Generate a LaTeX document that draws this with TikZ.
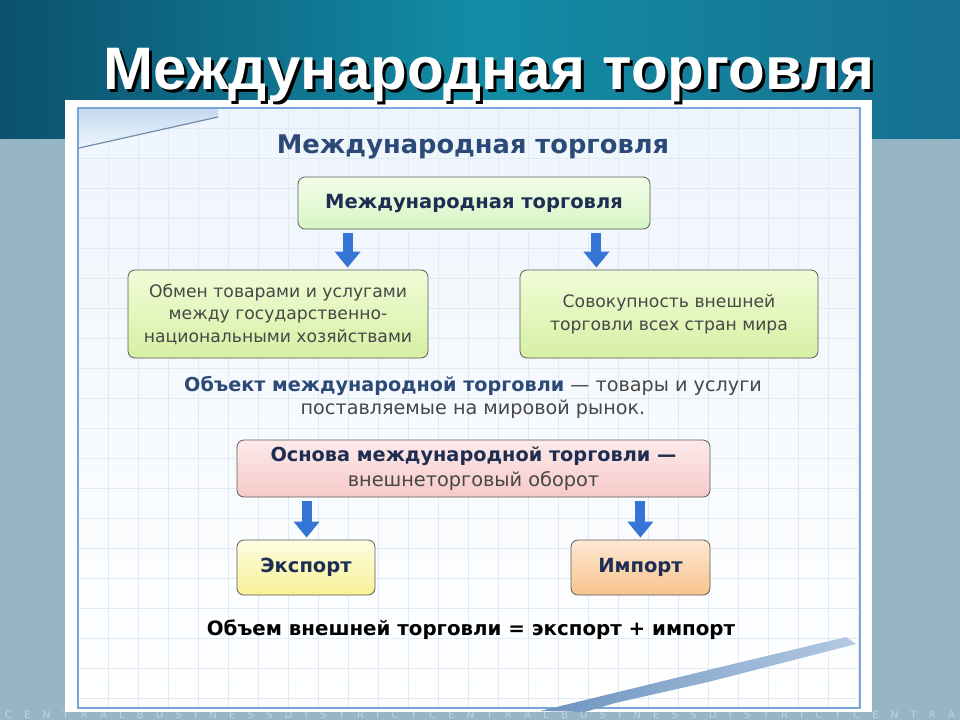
\documentclass[tikz,border=0pt]{standalone}
\usepackage{fontspec}
\setmainfont{DejaVu Sans}
\newfontfamily\titlefont{Liberation Sans}
\usetikzlibrary{positioning,arrows.meta,calc}

\definecolor{sky}{HTML}{17708F}
\definecolor{skydark}{HTML}{0C516E}
\definecolor{sidegrey}{HTML}{96B6C6}
\definecolor{navy}{HTML}{1E2D52}
\definecolor{headblue}{HTML}{2C4A78}
\definecolor{boxline}{HTML}{5A5A5A}
\definecolor{arrowblue}{HTML}{3475D6}
\definecolor{textgrey}{HTML}{474747}
\definecolor{panel}{HTML}{EEF5FC}
\definecolor{gridline}{HTML}{DFEAF5}
\definecolor{frame}{HTML}{78A6D8}
\definecolor{corner}{HTML}{C4DAF1}
\definecolor{pendark}{HTML}{6D93BF}
\definecolor{penlight}{HTML}{B3CAE2}

\begin{document}
\begin{tikzpicture}[x=1pt,y=-1pt]
        \tikzstyle{box}=[draw=boxline,rounded corners=7pt,line width=0.8pt,align=center,inner sep=2pt]
        \tikzstyle{gbox}=[box,top color={rgb,255:red,240;green,252;blue,214},bottom color={rgb,255:red,214;green,240;blue,164}]
        \tikzstyle{pbox}=[box,top color={rgb,255:red,253;green,234;blue,234},bottom color={rgb,255:red,247;green,201;blue,201}]
        \tikzstyle{ybox}=[box,top color={rgb,255:red,254;green,253;blue,226},bottom color={rgb,255:red,247;green,241;blue,150}]
        \tikzstyle{obox}=[box,top color={rgb,255:red,253;green,232;blue,212},bottom color={rgb,255:red,247;green,196;blue,140}]
        \tikzstyle{arr}=[line width=10pt,arrowblue,-{Triangle[width=25pt,length=16pt]}]
        \tikzstyle{body}=[font=\fontsize{17.2}{22.5}\selectfont,text=textgrey]
        \tikzstyle{bold}=[font=\fontsize{19.5}{24}\selectfont\bfseries,text=navy]

        % background of the slide
        \fill[sidegrey] (0,0) rectangle (960,720);
        \shade[left color=skydark,right color=sky,middle color=sky!80!cyan] (0,0) rectangle (960,138);
        \fill[white] (65,100) rectangle (872,712);
        \shade[top color=panel,bottom color=white] (78,108) rectangle (860,708);
        \foreach \gx in {108,138,...,858}
          \draw[gridline,line width=0.6pt] (\gx,108) -- (\gx,708);
        \foreach \gy in {128,158,...,700}
          \draw[gridline,line width=0.6pt] (78,\gy) -- (860,\gy);
        \draw[frame,line width=1.5pt] (78,108) rectangle (860,708);
        \shade[top color=corner,bottom color=panel] (79,109) -- (218,109) -- (218,117) -- (79,148) -- cycle;
        \draw[pendark!70!gray,line width=1.2pt] (79,148) -- (218,117);
        % pen
        \shade[left color=pendark,right color=penlight]
          (540,711) -- (610,694) -- (700,672) -- (846,637) -- (856,644) -- (708,682) -- (615,703) -- (585,712) -- cycle;

        % title
        \node(tshadow) at (492,78) {\titlefont\bfseries\fontsize{60}{60}\selectfont\color{black} Международная торговля};
        \node(title) at (489,75) {\titlefont\bfseries\fontsize{60}{60}\selectfont\color{white} Международная торговля};

        \node(head) at (473,147) {\fontsize{25.7}{28}\selectfont\bfseries\color{headblue} Международная торговля};

        \node[box,bold,minimum width=352pt,minimum height=52pt,top color={rgb,255:red,244;green,253;blue,234},bottom color={rgb,255:red,214;green,245;blue,196}](b1) at (474,203) {Международная торговля};

        \node[gbox,body,minimum width=300pt,minimum height=88pt](b2) at (278,314) {Обмен товарами и услугами\\между государственно-\\национальными хозяйствами};

        \node[gbox,body,minimum width=298pt,minimum height=88pt](b3) at (669,314) {Совокупность внешней\\торговли всех стран мира};

        \node[font=\fontsize{19.2}{23}\selectfont,text=textgrey,align=center](obj) at (473,397) {{\bfseries\color{headblue}Объект международной торговли} — товары и услуги\\поставляемые на мировой рынок.};

        \node[pbox,font=\fontsize{19.3}{25}\selectfont,text=textgrey,minimum width=473pt,minimum height=57pt](b4) at (473.5,468.5) {{\bfseries\color{navy}Основа международной торговли —}\\внешнеторговый оборот};

        \node[ybox,bold,minimum width=138pt,minimum height=55pt](b5) at (306,567.5) {Экспорт};
        \node[obox,bold,minimum width=139pt,minimum height=55pt](b6) at (640.5,567.5) {Импорт};

        \node[font=\fontsize{19.8}{22}\selectfont\bfseries](sum) at (471,630) {Объем внешней торговли = экспорт + импорт};

        % arrows
        \coordinate(a1) at ([xshift=50pt]b1.south west);
        \coordinate(a2) at ([xshift=-54pt]b1.south east);
        \coordinate(a3) at ([xshift=70pt]b4.south west);
        \coordinate(a4) at ([xshift=-70pt]b4.south east);
        \draw[arr] ([yshift=-4pt]a1) -- ([yshift=2pt]a1 |- b2.north);
        \draw[arr] ([yshift=-4pt]a2) -- ([yshift=2pt]a2 |- b3.north);
        \draw[arr] ([yshift=-4pt]a3) -- ([yshift=2pt]a3 |- b5.north);
        \draw[arr] ([yshift=-4pt]a4) -- ([yshift=2pt]a4 |- b6.north);

        % watermark
        \node[text=white,opacity=0.4,font=\fontsize{10}{10}\selectfont](mark) at (480,715)
          {\makebox[950pt][s]{C E N T R A L B U S I N E S S D I S T R I C T C E N T R A L B U S I N E S S D I S T R I C T C E N T R A}};
\end{tikzpicture}
\end{document}
